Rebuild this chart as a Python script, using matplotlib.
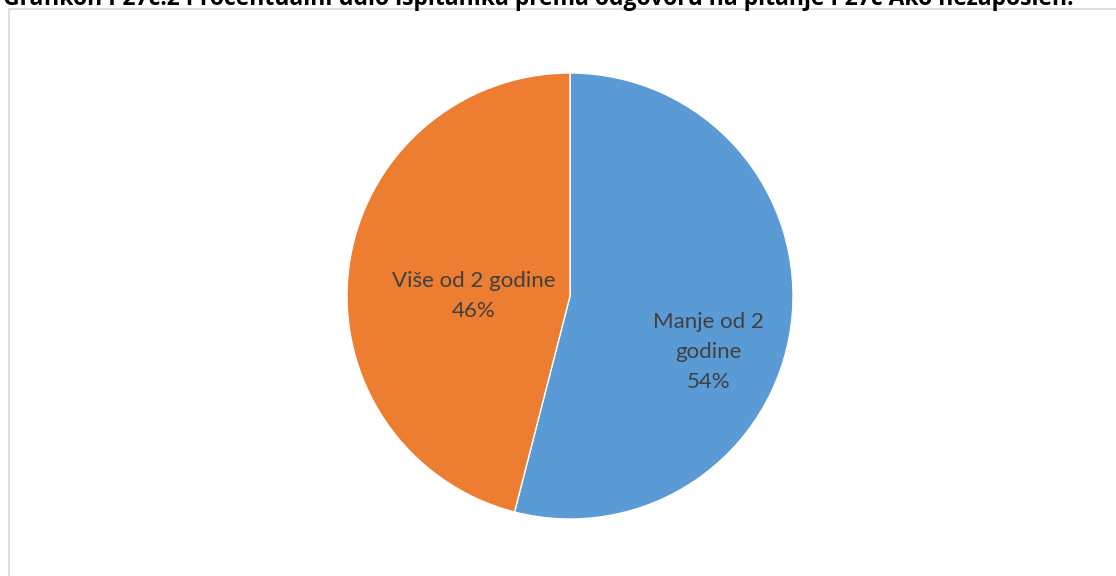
import matplotlib
matplotlib.use("Agg")
import matplotlib.pyplot as plt
from matplotlib.patches import Rectangle

title = "Grafikon P27c.2 Procentualni udio ispitanika prema odgovoru na pitanje P27c Ako nezaposlen:"
categories = ["Manje od 2\ngodine", "Više od 2 godine"]
values = [54, 46]
colors = ["#5B9BD5", "#ED7D31"]

W, H = 1116, 576
fig = plt.figure(figsize=(W / 100, H / 100), dpi=100)
fig.patch.set_facecolor("white")

# chart frame
fig.patches.append(Rectangle((8.5 / W, -0.1), 1.2, (H - 8.5) / H + 0.1,
                             transform=fig.transFigure, fill=False,
                             edgecolor="#D9D9D9", linewidth=1.2))

# title (clipped at top like the reference)
fig.text(3 / W, 1 - 5 / H, title, fontsize=16.5, fontweight="bold",
         family=["Open Sans", "DejaVu Sans"], color="black", va="baseline", ha="left")

cx, cy, r = 570, 296, 223
ax = fig.add_axes([(cx - r) / W, (H - cy - r) / H, 2 * r / W, 2 * r / H])
wedges, _ = ax.pie(values, colors=colors, startangle=90, counterclock=False,
                   radius=1, wedgeprops=dict(edgecolor="white", linewidth=1.0))
ax.set_xlim(-1, 1)
ax.set_ylim(-1, 1)
ax.set_aspect("equal")
ax.axis("off")

label_pos = [(0.62, -0.25), (-0.43, 0.0)]
for cat, v, (x, y) in zip(categories, values, label_pos):
    ax.text(x, y, f"{cat}\n{v}%", ha="center", va="center", fontsize=16,
            color="#404040", family=["Lato", "DejaVu Sans"], linespacing=1.62)

fig.savefig("out.png", dpi=100)
